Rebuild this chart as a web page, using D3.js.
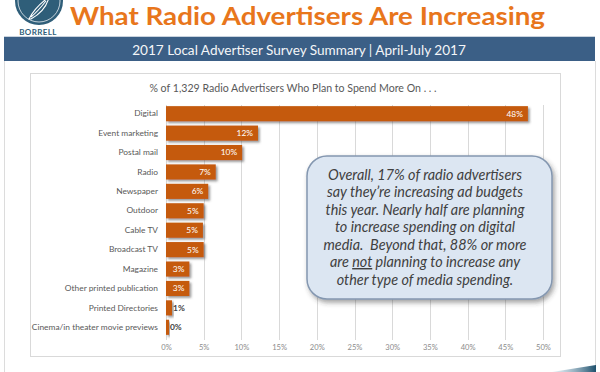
<!DOCTYPE html>
<html lang="en">
  <head>
    <meta charset="UTF-8" />
    <title>What Radio Advertisers Are Increasing</title>
    <script src="https://cdn.jsdelivr.net/npm/d3@7"></script>
    <style>
      html, body { margin: 0; padding: 0; background: #fff; }
      svg { display: block; font-family: Lato, "Open Sans", sans-serif; }
    </style>
  </head>

  <body>
    <div id="chart"></div>
    <script>
      // data
      const categories = [
        "Digital",
        "Event marketing",
        "Postal mail",
        "Radio",
        "Newspaper",
        "Outdoor",
        "Cable TV",
        "Broadcast TV",
        "Magazine",
        "Other printed publication",
        "Printed Directories",
        "Cinema/in theater movie previews",
      ];
      const values = [48, 12.2, 10.1, 6.6, 5.6, 5.0, 4.9, 5.0, 3.1, 3.1, 0.8, 0.4];
      const ticks = [0, 5, 10, 15, 20, 25, 30, 35, 40, 45, 50];
      const calloutLines = [
        "Overall, 17% of radio advertisers",
        "say they\u2019re increasing ad budgets",
        "this year. Nearly half are planning",
        "to increase spending on digital",
        "media.  Beyond that, 88% or more",
        "are |not| planning to increase any",
        "other type of media spending.",
      ];

      const width = 600;
      const height = 372;
      const plot = { left: 166, right: 543, top: 104, bottom: 337 };

      const svg = d3
        .select("#chart")
        .append("svg")
        .attr("width", width)
        .attr("height", height);

      const defs = svg.append("defs");
      defs
        .append("filter")
        .attr("id", "barShadow")
        .attr("x", "-10%").attr("y", "-30%")
        .attr("width", "130%").attr("height", "180%")
        .append("feDropShadow")
        .attr("dx", 1.8).attr("dy", 1.8)
        .attr("stdDeviation", 1.1)
        .attr("flood-color", "#444")
        .attr("flood-opacity", 0.55);
      defs
        .append("filter")
        .attr("id", "boxShadow")
        .attr("x", "-10%").attr("y", "-10%")
        .attr("width", "125%").attr("height", "130%")
        .append("feDropShadow")
        .attr("dx", 2).attr("dy", 3)
        .attr("stdDeviation", 2.5)
        .attr("flood-color", "#333")
        .attr("flood-opacity", 0.45);
      const wedge = defs
        .append("linearGradient")
        .attr("id", "wedge")
        .attr("x1", "0").attr("x2", "1");
      wedge.append("stop").attr("offset", "0").attr("stop-color", "#8fb3c9").attr("stop-opacity", 0.2);
      wedge.append("stop").attr("offset", "1").attr("stop-color", "#1d4f6b");

      // slide frame
      svg.append("line")
        .attr("x1", 4.5).attr("x2", 4.5).attr("y1", 61).attr("y2", height)
        .attr("stroke", "#dcdcdc");
      svg.append("line")
        .attr("x1", 595.5).attr("x2", 595.5).attr("y1", 61).attr("y2", 366)
        .attr("stroke", "#dcdcdc");
      svg.append("path")
        .attr("d", "M552,372 L596,365 L596,372 Z")
        .attr("fill", "url(#wedge)");

      // logo
      const logo = svg.append("g");
      logo.append("circle")
        .attr("cx", 39).attr("cy", 1).attr("r", 24)
        .attr("fill", "#2f5e79");
      logo.append("circle")
        .attr("cx", 39).attr("cy", 1).attr("r", 21)
        .attr("fill", "none").attr("stroke", "#e8eef2").attr("stroke-width", 0.8);
      logo.append("path")
        .attr("d", "M29,19 C33,11 42,2 49,-3 C47,6 40,14 31,19 Z M31,17 C37,12 42,6 46,1")
        .attr("fill", "none").attr("stroke", "#fff").attr("stroke-width", 1.1);
      logo.append("text")
        .attr("x", 38).attr("y", 35)
        .attr("text-anchor", "middle")
        .attr("font-size", 8).attr("font-weight", 700)
        .attr("letter-spacing", 0.4)
        .attr("fill", "#2f5e79")
        .text("BORRELL");

      // title + banner
      svg.append("text")
        .attr("x", 70).attr("y", 25)
        .attr("font-size", 25).attr("font-weight", 700)
        .attr("fill", "#e8761c")
        .attr("textLength", 475).attr("lengthAdjust", "spacingAndGlyphs")
        .text("What Radio Advertisers Are Increasing");
      svg.append("rect")
        .attr("x", 4).attr("y", 37).attr("width", 591).attr("height", 24)
        .attr("fill", "#3b5f86");
      svg.append("line")
        .attr("x1", 4).attr("x2", 595).attr("y1", 36.5).attr("y2", 36.5)
        .attr("stroke", "#c9d3de");
      svg.append("text")
        .attr("x", 299).attr("y", 54.5)
        .attr("text-anchor", "middle")
        .attr("font-size", 13.6)
        .attr("fill", "#f4f6f8")
        .text("2017 Local Advertiser Survey Summary | April-July 2017");

      // chart area
      svg.append("rect")
        .attr("x", 30.5).attr("y", 73.5).attr("width", 530).attr("height", 283)
        .attr("fill", "#fff").attr("stroke", "#d9d9d9");
      svg.append("text")
        .attr("x", 293).attr("y", 92)
        .attr("text-anchor", "middle")
        .attr("font-size", 10.6)
        .attr("fill", "#595959")
        .text("% of 1,329 Radio Advertisers Who Plan to Spend More On . . .");

      const x = d3.scaleLinear().domain([0, 50]).range([plot.left, plot.right]);
      const y = d3
        .scaleBand()
        .domain(categories)
        .range([plot.top, plot.bottom])
        .paddingInner(0.22)
        .paddingOuter(0.11);

      // gridlines
      svg.append("g")
        .selectAll("line")
        .data(ticks)
        .join("line")
        .attr("x1", (d) => Math.round(x(d)) + 0.5)
        .attr("x2", (d) => Math.round(x(d)) + 0.5)
        .attr("y1", plot.top + 1)
        .attr("y2", plot.bottom + 3)
        .attr("stroke", "#d9d9d9");

      // x axis labels
      const xAxis = svg
        .append("g")
        .attr("transform", `translate(0,${plot.bottom + 4})`)
        .call(d3.axisBottom(x).tickValues(ticks).tickSize(0).tickPadding(4).tickFormat((d) => d + "%"));
      xAxis.select(".domain").remove();
      xAxis.selectAll("text")
        .attr("font-family", "Lato, sans-serif")
        .attr("font-size", 7.6)
        .attr("fill", "#8c8c8c");

      // category labels
      const yAxis = svg
        .append("g")
        .attr("transform", `translate(${plot.left - 8},0)`)
        .call(d3.axisLeft(y).tickSize(0).tickPadding(0));
      yAxis.select(".domain").remove();
      yAxis.selectAll("text")
        .attr("font-family", "Lato, sans-serif")
        .attr("font-size", 8.4)
        .attr("fill", "#595959");

      // bars
      svg.append("g")
        .selectAll("rect")
        .data(values)
        .join("rect")
        .attr("x", x(0))
        .attr("y", (d, i) => y(categories[i]))
        .attr("width", (d) => x(d) - x(0))
        .attr("height", y.bandwidth())
        .attr("fill", "#c55a11")
        .attr("filter", "url(#barShadow)");

      // value labels
      svg.append("g")
        .selectAll("text")
        .data(values)
        .join("text")
        .attr("x", (d) => (d < 2 ? x(d) + 1 : x(d) - 5))
        .attr("y", (d, i) => y(categories[i]) + y.bandwidth() / 2)
        .attr("dy", "0.35em")
        .attr("text-anchor", (d) => (d < 2 ? "start" : "end"))
        .attr("font-size", 8.4)
        .attr("font-weight", (d) => (d < 2 ? 700 : 400))
        .attr("fill", (d) => (d < 2 ? "#404040" : "#fff"))
        .text((d) => Math.round(d) + "%");

      // callout
      svg.append("rect")
        .attr("x", 307).attr("y", 156).attr("width", 245).attr("height", 143)
        .attr("rx", 20).attr("ry", 20)
        .attr("fill", "#dce6f2")
        .attr("stroke", "#8497b0").attr("stroke-width", 1.5)
        .attr("filter", "url(#boxShadow)");
      const callout = svg.append("text")
        .attr("text-anchor", "middle")
        .attr("font-size", 14.4)
        .attr("font-style", "italic")
        .attr("fill", "#404040")
        .style("white-space", "pre");
      calloutLines.forEach((line, i) => {
        const t = callout.append("tspan").attr("x", 425).attr("y", 179.5 + i * 17.5);
        line.split("|").forEach((part, j) => {
          const s = t.append("tspan").text(part);
          if (j === 1) s.attr("text-decoration", "underline");
        });
      });
    </script>
  </body>
</html>
